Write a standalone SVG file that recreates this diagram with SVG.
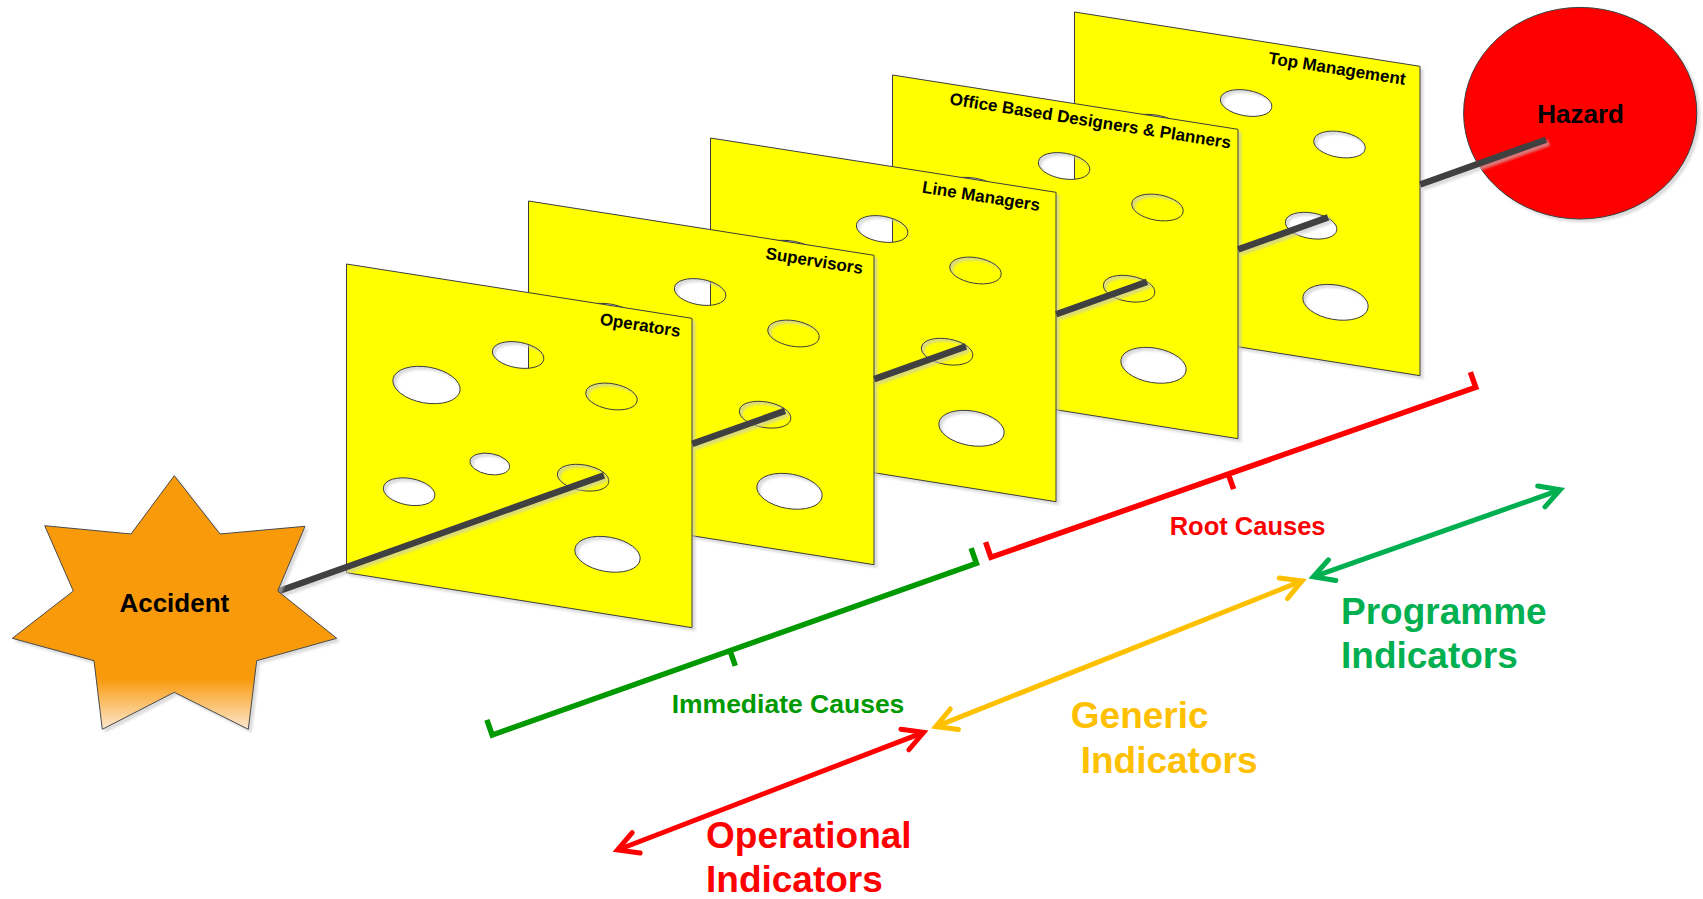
<svg xmlns="http://www.w3.org/2000/svg" width="1703" height="899" viewBox="0 0 1703 899">
  <defs>
    <style>
      .sheet { fill: #FFFF00; stroke: #3c3c3c; stroke-width: 1; fill-rule: evenodd; }
      .sheet-label { font-family: "Liberation Sans", Arial, sans-serif; font-weight: bold; font-size: 17px; fill: #000; text-anchor: end; }
      .node-label { font-family: "Liberation Sans", Arial, sans-serif; font-weight: bold; font-size: 26px; fill: #000; text-anchor: middle; }
      .cause-label { font-family: "Liberation Sans", Arial, sans-serif; font-weight: bold; text-anchor: middle; }
      .ind-label { font-family: "Liberation Sans", Arial, sans-serif; font-weight: bold; font-size: 37px; }
      .rod { fill: none; stroke: #404040; stroke-width: 6.5; stroke-linecap: butt; }
      .bracket { fill: none; stroke-width: 5.5; stroke-linejoin: miter; stroke-linecap: butt; }
      .arrow { fill: none; stroke-width: 5; stroke-linecap: butt; }
      .head { fill: none; stroke-width: 5; stroke-linecap: round; stroke-linejoin: miter; }
    </style>

    <!-- soft grey drop shadow, also shows through the holes of the sheets -->
    <filter id="shadow" x="-10%" y="-10%" width="125%" height="125%" color-interpolation-filters="sRGB">
      <feGaussianBlur in="SourceAlpha" stdDeviation="0.8"/>
      <feOffset dx="3" dy="3" result="off"/>
      <feFlood flood-color="#C4C4C4" flood-opacity="0.6"/>
      <feComposite in2="off" operator="in"/>
      <feMerge>
        <feMergeNode/>
        <feMergeNode in="SourceGraphic"/>
      </feMerge>
    </filter>

    <linearGradient id="starFill" x1="0" y1="0" x2="0" y2="1">
      <stop offset="0" stop-color="#F99A0B"/>
      <stop offset="0.8" stop-color="#F99A0B"/>
      <stop offset="1" stop-color="#FCE8D0"/>
    </linearGradient>

    <!-- one cheese sheet in local coordinates, with its seven holes cut out -->
    <path id="sheet" d="M0,0 L345.5,54.3 L345.5,363.7 L0,308.7 Z
      M197.2,95.5 A26,12.5 10 1 0 146,86.5 A26,12.5 10 1 0 197.2,95.5 Z
      M113.5,126.9 A34,18 10 1 0 46.5,115.1 A34,18 10 1 0 113.5,126.9 Z
      M290.6,137 A26,12.5 10 1 0 239.4,128 A26,12.5 10 1 0 290.6,137 Z
      M163,203.5 A20,10.5 10 1 0 123.6,196.5 A20,10.5 10 1 0 163,203.5 Z
      M88.2,232.2 A26,13 10 1 0 37,223.2 A26,13 10 1 0 88.2,232.2 Z
      M262.2,218.2 A26,12.5 10 1 0 211,209.2 A26,12.5 10 1 0 262.2,218.2 Z
      M293.5,296 A33,17 10 1 0 228.5,284.6 A33,17 10 1 0 293.5,296 Z"/>

    <marker id="head-red" markerUnits="userSpaceOnUse" viewBox="-30 -16 36 32" refX="0" refY="0" markerWidth="36" markerHeight="32" orient="auto-start-reverse" overflow="visible">
      <path class="head" d="M-20,-11 L0,0 L-20,11" stroke="#FF0000"/>
    </marker>
    <marker id="head-amber" markerUnits="userSpaceOnUse" viewBox="-30 -16 36 32" refX="0" refY="0" markerWidth="36" markerHeight="32" orient="auto-start-reverse" overflow="visible">
      <path class="head" d="M-20,-11 L0,0 L-20,11" stroke="#FFC000"/>
    </marker>
    <marker id="head-green" markerUnits="userSpaceOnUse" viewBox="-30 -16 36 32" refX="0" refY="0" markerWidth="36" markerHeight="32" orient="auto-start-reverse" overflow="visible">
      <path class="head" d="M-20,-11 L0,0 L-20,11" stroke="#00B050"/>
    </marker>
  </defs>

  <rect width="1703" height="899" fill="#FFFFFF"/>

  <!-- hazard -->
  <g id="hazard">
    <ellipse cx="1580.2" cy="113.2" rx="116.6" ry="105.8" fill="#FF0000" stroke="#3c3c3c" stroke-width="1" filter="url(#shadow)"/>
    <text class="node-label" x="1580.6" y="122.7">Hazard</text>
  </g>

  <!-- sheets, furthest first -->
  <g id="sheet-top-management" transform="translate(1074.5,12)">
    <use href="#sheet" class="sheet" filter="url(#shadow)"/>
    <text class="sheet-label" x="330" y="73" font-size="17.8" transform="rotate(8.93 330 73)">Top Management</text>
  </g>
  <g id="sheet-designers-planners" transform="translate(892.5,75)">
    <use href="#sheet" class="sheet" filter="url(#shadow)"/>
    <text class="sheet-label" x="337.5" y="73.5" transform="rotate(8.93 337.5 73.5)">Office Based Designers &amp; Planners</text>
  </g>
  <g id="sheet-line-managers" transform="translate(710.5,138)">
    <use href="#sheet" class="sheet" filter="url(#shadow)"/>
    <text class="sheet-label" x="328.5" y="73" font-size="17.4" transform="rotate(8.93 328.5 73)">Line Managers</text>
  </g>
  <g id="sheet-supervisors" transform="translate(528.5,201)">
    <use href="#sheet" class="sheet" filter="url(#shadow)"/>
    <text class="sheet-label" x="333.5" y="73" transform="rotate(8.93 333.5 73)">Supervisors</text>
  </g>
  <g id="sheet-operators" transform="translate(346.5,264)">
    <use href="#sheet" class="sheet" filter="url(#shadow)"/>
    <text class="sheet-label" x="333" y="73" font-size="17.6" transform="rotate(8.93 333 73)">Operators</text>
  </g>

  <!-- connectors -->
  <g id="connectors">
    <!-- trajectory rod: only the stretches not hidden behind a sheet -->
    <path id="rod" class="rod" filter="url(#shadow)" d="M270,594.3 L604,475.4
      M692.2,443.9 L785,410.9
      M874.2,379.1 L966,346.4
      M1056.2,314.2 L1147,281.9
      M1238.2,249.4 L1328,217.4
      M1420.2,184.5 L1546,139.7"/>

    <!-- cause brackets -->
    <path id="bracket-immediate" class="bracket" stroke="#009900" d="M486.9,719.9 L492.2,735 L976.4,563.3 L971.1,548.2 M730,650.7 L735.3,665.8"/>
    <path id="bracket-root" class="bracket" stroke="#FF0000" d="M985.6,542.2 L990.9,557.3 L1475.7,387.3 L1470.4,372.2 M1228.3,474.1 L1233.6,489.2"/>

    <!-- indicator ranges -->
    <path id="arrow-operational" class="arrow" stroke="#FF0000" marker-start="url(#head-red)" marker-end="url(#head-red)" d="M617.5,850 L923.6,732.3"/>
    <path id="arrow-generic" class="arrow" stroke="#FFC000" marker-start="url(#head-amber)" marker-end="url(#head-amber)" d="M935.8,726.6 L1302,580.9"/>
    <path id="arrow-programme" class="arrow" stroke="#00B050" marker-start="url(#head-green)" marker-end="url(#head-green)" d="M1313.3,576.8 L1560.2,489.8"/>
  </g>

  <!-- accident -->
  <g id="accident">
    <polygon fill="url(#starFill)" stroke="#4a4a4a" stroke-width="1" filter="url(#shadow)"
      points="174.3,475.7 220,534 305,526.3 277.7,591 336.7,638.3 256.7,660.7 248.3,729.3 174.3,692.3 102.3,729.3 94,660.7 12.3,638.3 73.3,591 44.7,525.7 131,534"/>
    <text class="node-label" x="174.3" y="612.3">Accident</text>
  </g>

  <!-- labels -->
  <g id="cause-labels">
    <text class="cause-label" x="788" y="713.3" font-size="26.5" fill="#009900">Immediate Causes</text>
    <text class="cause-label" x="1247.6" y="535" font-size="25.5" fill="#FF0000">Root Causes</text>
  </g>
  <g id="indicator-labels">
    <text class="ind-label" fill="#FF0000"><tspan x="706" y="848.3">Operational</tspan><tspan x="706" y="892.4">Indicators</tspan></text>
    <text class="ind-label" fill="#FFC000"><tspan x="1070.8" y="727.5">Generic</tspan><tspan x="1080.7" y="773">Indicators</tspan></text>
    <text class="ind-label" fill="#00B050"><tspan x="1341" y="624">Programme</tspan><tspan x="1341" y="668.3">Indicators</tspan></text>
  </g>
</svg>
